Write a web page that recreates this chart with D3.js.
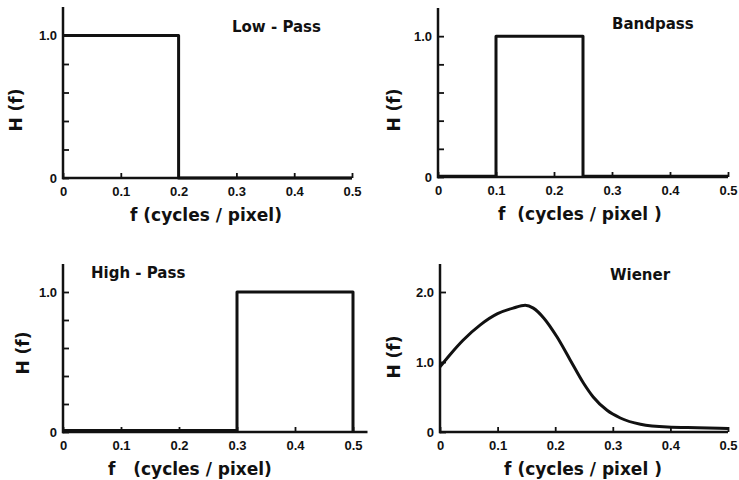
<!DOCTYPE html>
<html>
<head>
<meta charset="utf-8">
<script src="https://cdn.jsdelivr.net/npm/d3@7"></script>
<style>
  body { margin: 0; background: #fff; }
  svg text { font-family: "DejaVu Sans", "Liberation Sans", sans-serif; fill: #111; font-weight: bold; }
  svg .tick text { font-family: "Liberation Sans", sans-serif; font-size: 13px; }
</style>
</head>
<body>
<svg width="739" height="480"></svg>
<script>
// frequency ticks shared by every panel
var fTicks = [0, 0.1, 0.2, 0.3, 0.4, 0.5];
var fTickLabels = ["0", "0.1", "0.2", "0.3", "0.4", "0.5"];

// ideal filters (step responses)
var lowF = [0, 0.2, 0.2, 0.5];
var lowH = [1, 1, 0, 0];
var bandF = [0, 0.1, 0.1, 0.25, 0.25, 0.5];
var bandH = [0.005, 0.005, 1, 1, 0.005, 0.005];
var highF = [0, 0.3, 0.3, 0.5, 0.5];
var highH = [0.01, 0.01, 1, 1, 0];

// wiener filter
var wienerF = [0, 0.017, 0.04, 0.07, 0.1, 0.127, 0.148, 0.162, 0.18, 0.203, 0.226, 0.249, 0.266, 0.29, 0.313, 0.348, 0.395, 0.447, 0.5];
var wienerH = [0.93, 1.1, 1.31, 1.53, 1.69, 1.77, 1.81, 1.77, 1.63, 1.36, 1.03, 0.7, 0.5, 0.31, 0.2, 0.11, 0.07, 0.06, 0.05];

var stepTicks = [0, 0.2, 0.4, 0.6, 0.8, 1.0];
var stepTickLabels = ["0", "", "", "", "", "1.0"];
var wienerTicks = [0, 1, 2];
var wienerTickLabels = ["0", "1.0", "2.0"];

var titles = ["Low - Pass", "Bandpass", "High - Pass", "Wiener"];
var xLabels = ["f (cycles / pixel)", "f  (cycles / pixel )", "f   (cycles / pixel)", "f (cycles / pixel )"];

var svg = d3.select("svg");

var panels = [
  { left: 63, right: 352, bottom: 178, top: 7, ymax: 1.2, axisEnd: 0.5,
    f: lowF, h: lowH, yt: stepTicks, ytl: stepTickLabels,
    title: titles[0], tx: 232, ty: 32, xl: xLabels[0], xlx: 206, yly: 110, ylx: 16, curve: d3.curveLinear },
  { left: 438, right: 728, bottom: 177, top: 8, ymax: 1.2, axisEnd: 0.5,
    f: bandF, h: bandH, yt: stepTicks, ytl: stepTickLabels,
    title: titles[1], tx: 612, ty: 29, xl: xLabels[1], xlx: 580, yly: 110, ylx: 394, curve: d3.curveLinear },
  { left: 63, right: 353, bottom: 432, top: 264, ymax: 1.2, axisEnd: 0.525,
    f: highF, h: highH, yt: stepTicks, ytl: stepTickLabels,
    title: titles[2], tx: 91, ty: 278, xl: xLabels[2], xlx: 190, yly: 353, ylx: 23, curve: d3.curveLinear },
  { left: 440, right: 728, bottom: 432, top: 264, ymax: 2.4, axisEnd: 0.5,
    f: wienerF, h: wienerH, yt: wienerTicks, ytl: wienerTickLabels,
    title: titles[3], tx: 610, ty: 280, xl: xLabels[3], xlx: 583, yly: 357, ylx: 394, curve: d3.curveMonotoneX }
];

panels.forEach(function (p) {
  var x = d3.scaleLinear().domain([0, 0.5]).range([p.left, p.right]);
  var y = d3.scaleLinear().domain([0, p.ymax]).range([p.bottom, p.top]);
  var g = svg.append("g");

  // x axis, ticks pointing up
  var xa = g.append("g")
      .attr("transform", "translate(0," + p.bottom + ")")
      .call(d3.axisBottom(x)
        .tickValues(fTicks)
        .tickFormat(function (d, i) { return fTickLabels[i]; })
        .tickSizeInner(-5)
        .tickSizeOuter(0)
        .tickPadding(9));
  xa.select(".domain").remove();
  xa.attr("font-family", null).attr("font-size", null);
  xa.selectAll(".tick line").attr("stroke", "#111").attr("stroke-width", 1.8);
  g.append("line")
      .attr("x1", x(0) - 1).attr("x2", x(p.axisEnd))
      .attr("y1", p.bottom).attr("y2", p.bottom)
      .attr("stroke", "#111").attr("stroke-width", 2.5);

  // y axis, ticks pointing right
  var ya = g.append("g")
      .attr("transform", "translate(" + p.left + ",0)")
      .call(d3.axisLeft(y)
        .tickValues(p.yt)
        .tickFormat(function (d, i) { return p.ytl[i]; })
        .tickSizeInner(-6)
        .tickSizeOuter(0)
        .tickPadding(6));
  ya.select(".domain").remove();
  ya.attr("font-family", null).attr("font-size", null);
  ya.selectAll(".tick line").attr("stroke", "#111").attr("stroke-width", 1.8);
  g.append("line")
      .attr("x1", p.left).attr("x2", p.left)
      .attr("y1", p.bottom + 1.2).attr("y2", y(p.ymax))
      .attr("stroke", "#111").attr("stroke-width", 2.5);

  // response curve
  var pts = p.f.map(function (d, i) { return [d, p.h[i]]; });
  g.append("path")
      .datum(pts)
      .attr("fill", "none")
      .attr("stroke", "#111")
      .attr("stroke-width", 3)
      .attr("stroke-linejoin", "round")
      .attr("d", d3.line()
        .x(function (d) { return x(d[0]); })
        .y(function (d) { return y(d[1]); })
        .curve(p.curve));

  g.append("text")
      .attr("x", p.tx).attr("y", p.ty)
      .style("font-size", "15px")
      .text(p.title);

  g.append("text")
      .attr("x", p.xlx).attr("y", p.bottom + 43)
      .attr("text-anchor", "middle")
      .style("font-size", "17px")
      .style("white-space", "pre")
      .text(p.xl);

  g.append("text")
      .attr("transform", "translate(" + (p.ylx + 6) + "," + p.yly + ") rotate(-90)")
      .attr("text-anchor", "middle")
      .style("font-size", "17px")
      .text("H (f)");
});
</script>
</body>
</html>
